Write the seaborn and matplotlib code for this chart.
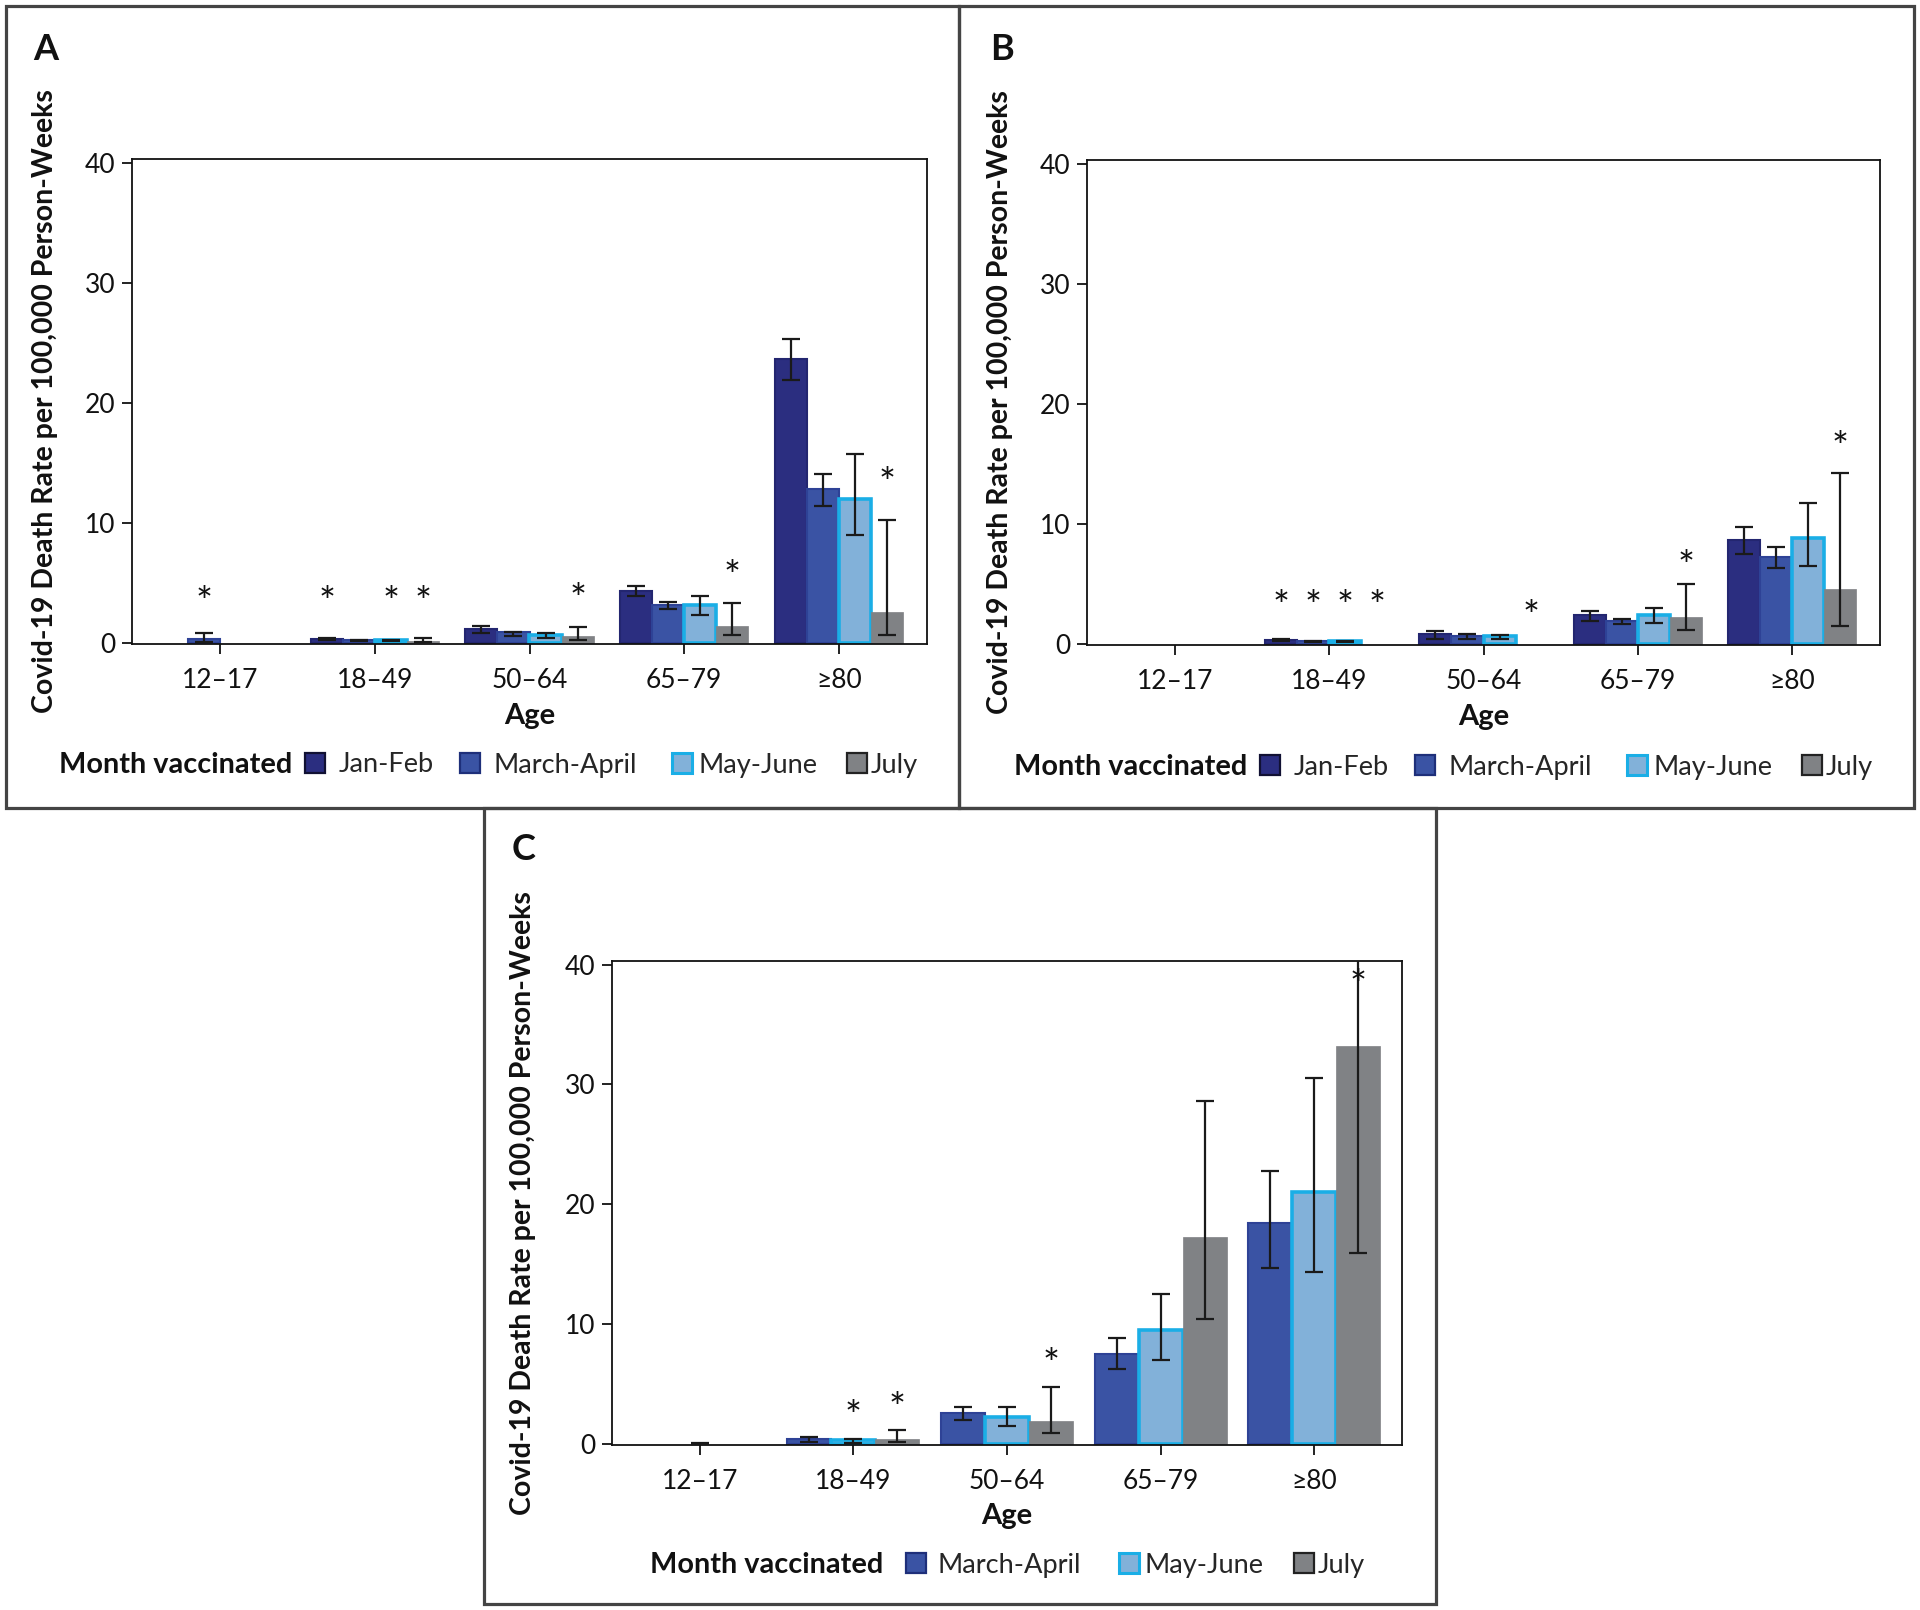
import numpy as np
import pandas as pd
import matplotlib
matplotlib.use("Agg")
import matplotlib.pyplot as plt
from matplotlib.patches import Rectangle, Patch
import seaborn as sns

nan = np.nan
ages = ["12–17", "18–49", "50–64", "65–79", "≥80"]
months_ab = ["Jan-Feb", "March-April", "May-June", "July"]
months_c = ["March-April", "May-June", "July"]

# Panel A
a_jan_feb = [nan, 0.30, 1.14, 4.35, 23.6]
a_jan_feb_lo = [nan, 0.22, 0.80, 3.90, 21.9]
a_jan_feb_hi = [nan, 0.36, 1.40, 4.75, 25.3]
a_mar_apr = [0.30, 0.22, 0.86, 3.16, 12.8]
a_mar_apr_lo = [0.05, 0.18, 0.60, 2.80, 11.4]
a_mar_apr_hi = [0.83, 0.27, 0.92, 3.40, 14.1]
a_may_jun = [nan, 0.20, 0.64, 3.16, 11.97]
a_may_jun_lo = [nan, 0.12, 0.42, 2.35, 9.0]
a_may_jun_hi = [nan, 0.22, 0.83, 3.93, 15.7]
a_july = [nan, 0.14, 0.58, 1.41, 2.55]
a_july_lo = [nan, 0.05, 0.25, 0.66, 0.66]
a_july_hi = [nan, 0.39, 1.30, 3.35, 10.25]
a_stars = [(0, 1, 3.98), (1, 0, 3.98), (1, 2, 3.98), (1, 3, 3.98), (2, 3, 4.3), (3, 3, 6.15), (4, 3, 13.9)]

# Panel B
b_jan_feb = [nan, 0.33, 0.78, 2.44, 8.64]
b_jan_feb_lo = [nan, 0.25, 0.42, 1.91, 7.48]
b_jan_feb_hi = [nan, 0.38, 1.05, 2.71, 9.75]
b_mar_apr = [nan, 0.22, 0.69, 1.94, 7.2]
b_mar_apr_lo = [nan, 0.17, 0.42, 1.63, 6.32]
b_mar_apr_hi = [nan, 0.27, 0.78, 2.10, 8.03]
b_may_jun = [nan, 0.22, 0.66, 2.38, 8.81]
b_may_jun_lo = [nan, 0.17, 0.42, 1.77, 6.48]
b_may_jun_hi = [nan, 0.27, 0.75, 2.99, 11.7]
b_july = [nan, nan, nan, 2.27, 4.57]
b_july_lo = [nan, nan, nan, 1.11, 1.52]
b_july_hi = [nan, nan, nan, 4.99, 14.2]
b_stars = [(1, 0, 3.8), (1, 1, 3.8), (1, 2, 3.8), (1, 3, 3.8), (2, 3, 2.9), (3, 3, 7.1), (4, 3, 17.0)]

# Panel C
c_mar_apr = [nan, 0.44, 2.6, 7.53, 18.4]
c_mar_apr_lo = [nan, 0.19, 2.0, 6.23, 14.7]
c_mar_apr_hi = [nan, 0.58, 3.05, 8.86, 22.8]
c_may_jun = [0.0, 0.28, 2.22, 9.5, 21.0]
c_may_jun_lo = [0.0, 0.03, 1.47, 7.0, 14.35]
c_may_jun_hi = [0.05, 0.36, 3.05, 12.52, 30.5]
c_july = [nan, 0.39, 1.91, 17.23, 33.2]
c_july_lo = [nan, 0.19, 0.86, 10.4, 15.9]
c_july_hi = [nan, 1.19, 4.76, 28.6, 42.0]
c_stars = [(1, 1, 2.95), (1, 2, 3.57), (2, 2, 7.3), (4, 2, 38.9)]

style = {
    "Jan-Feb": dict(face="#2B2E80", edge="#232670", lw=1.5, ledge="#111133"),
    "March-April": dict(face="#3A53A4", edge="#2E4296", lw=1.5, ledge="#1E2F7A"),
    "May-June": dict(face="#82B1D9", edge="#1AAEE6", lw=2.6, ledge="#1AAEE6"),
    "July": dict(face="#808285", edge="#808285", lw=0.5, ledge="#222222"),
}

sns.set_style("ticks")
plt.rcParams["font.family"] = ["Lato", "DejaVu Sans"]

W, H = 1920, 1610
fig = plt.figure(figsize=(19.2, 16.1), dpi=100)

TICK_FS = 19
LAB_FS = 20.5
LEG_FS = 19.6
STAR_FS = 29


def fx(px):
    return px / W


def fy(py):
    return 1 - py / H


def panel(rect_px, months, vals, los, his, stars, width, letter, letter_xy, ylab_x,
          age_y, leg_text_x, leg_handles_x, leg_pads, leg_y):
    l, t, r, b = rect_px
    ax = fig.add_axes([fx(l), fy(b), (r - l) / W, (b - t) / H])
    rows = []
    for m, v in zip(months, vals):
        for a, val in zip(ages, v):
            rows.append((a, m, val))
    df = pd.DataFrame(rows, columns=["age", "month", "rate"]).dropna()
    sns.barplot(data=df, x="age", y="rate", hue="month", order=ages, hue_order=months,
                palette={m: style[m]["face"] for m in months}, saturation=1,
                errorbar=None, width=width, gap=0, legend=False, ax=ax, zorder=2)
    bar_conts = list(ax.containers)
    centers = {}
    for i, cont in enumerate(bar_conts):
        m = months[i]
        for bar in cont:
            c = bar.get_x() + bar.get_width() / 2
            k = int(round(c))
            centers[(k, i)] = c
            if bar.get_height() <= 0:
                bar.set_linewidth(0)
                bar.set_edgecolor("none")
            else:
                bar.set_edgecolor(style[m]["edge"])
                bar.set_linewidth(style[m]["lw"])
            lo, hi = los[i][k], his[i][k]
            if not np.isnan(lo):
                mid = (lo + hi) / 2
                ax.errorbar([c], [mid], yerr=[(hi - lo) / 2], fmt="none",
                            ecolor="#1a1a1a", elinewidth=1.6, capsize=6.5,
                            capthick=1.6, zorder=4)
    n = len(months)
    for (k, i, y) in stars:
        if (k, i) in centers:
            c = centers[(k, i)]
        else:
            c = k - width / 2 + width / n * (i + 0.5)
        ax.annotate("*", (c, y), xytext=(0, -0.53 * STAR_FS), textcoords="offset points",
                    ha="center", va="baseline", fontsize=STAR_FS, color="#111111", zorder=5)
    ax.set_xlim(-0.57, 4.57)
    ax.set_ylim(-0.1, 40.3)
    ax.set_yticks([0, 10, 20, 30, 40])
    ax.set_xlabel("")
    ax.set_ylabel("")
    for s in ax.spines.values():
        s.set_visible(True)
        s.set_color("#111111")
        s.set_linewidth(1.3)
    ax.tick_params(axis="both", labelsize=TICK_FS, colors="#111111", width=1.3, length=7)
    ax.tick_params(axis="x", pad=10)
    ax.tick_params(axis="y", pad=5)
    ax.set_facecolor("white")
    fig.text(fx(letter_xy[0]), fy(letter_xy[1]), letter, fontsize=26, fontweight="bold",
             ha="center", va="center", color="#111111")
    fig.text(fx(ylab_x), fy((t + b) / 2), "Covid-19 Death Rate per 100,000 Person-Weeks",
             rotation=90, ha="center", va="center", fontsize=LAB_FS, fontweight="bold",
             color="#111111")
    fig.text(fx((l + r) / 2), fy(age_y), "Age", ha="center", va="center", fontsize=21,
             fontweight="bold", color="#111111")
    fig.text(fx(leg_text_x), fy(leg_y), "Month vaccinated", ha="left", va="center",
             fontsize=20.8, fontweight="bold", color="#111111")
    for m, hx, pad in zip(months, leg_handles_x, leg_pads):
        h = Patch(facecolor=style[m]["face"], edgecolor=style[m]["ledge"],
                  linewidth=1.6 if m != "May-June" else 2.2)
        fig.legend([h], [m], loc="center left",
                   bbox_to_anchor=(fx(hx), fy(leg_y)), bbox_transform=fig.transFigure,
                   frameon=False, fontsize=LEG_FS, handlelength=0.72,
                   handleheight=0.72, handletextpad=pad, borderpad=0,
                   borderaxespad=0)
    return ax


panel((132, 159, 927, 644), months_ab,
      [a_jan_feb, a_mar_apr, a_may_jun, a_july],
      [a_jan_feb_lo, a_mar_apr_lo, a_may_jun_lo, a_july_lo],
      [a_jan_feb_hi, a_mar_apr_hi, a_may_jun_hi, a_july_hi],
      a_stars, 0.83, "A", (46, 49), 45, 716, 59,
      [305, 460, 672, 847], [0.52, 0.52, 0.27, 0.15], 765)

panel((1087, 160, 1880, 645), months_ab,
      [b_jan_feb, b_mar_apr, b_may_jun, b_july],
      [b_jan_feb_lo, b_mar_apr_lo, b_may_jun_lo, b_july_lo],
      [b_jan_feb_hi, b_mar_apr_hi, b_may_jun_hi, b_july_hi],
      b_stars, 0.83, "B", (1002, 49), 1000, 717, 1014,
      [1260, 1415, 1627, 1802], [0.52, 0.52, 0.27, 0.15], 767)

panel((612, 961, 1402, 1445), months_c,
      [c_mar_apr, c_may_jun, c_july],
      [c_mar_apr_lo, c_may_jun_lo, c_july_lo],
      [c_mar_apr_hi, c_may_jun_hi, c_july_hi],
      c_stars, 0.86, "C", (524, 849), 523, 1516, 650,
      [906, 1119, 1294], [0.45, 0.23, 0.15], 1565)

for (x0, y0, x1, y1) in [(6, 6, 959, 808), (959, 6, 1914, 808), (484, 808, 1436, 1604)]:
    fig.add_artist(Rectangle((fx(x0), fy(y1)), (x1 - x0) / W, (y1 - y0) / H,
                             transform=fig.transFigure, fill=False,
                             edgecolor="#444444", linewidth=2.3))

fig.savefig("out.png", dpi=100, facecolor="white")
